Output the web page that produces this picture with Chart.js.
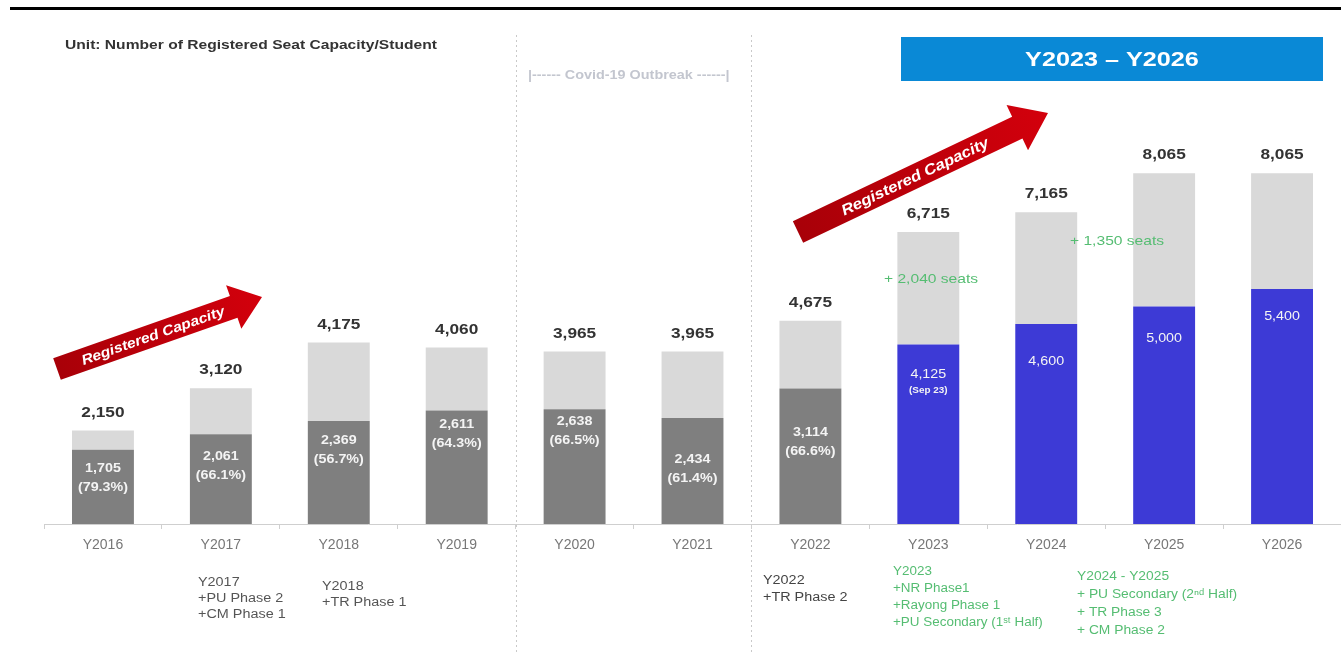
<!DOCTYPE html>
<html><head><meta charset="utf-8">
<script src="https://cdn.jsdelivr.net/npm/chart.js@4.4.0/dist/chart.umd.min.js"></script>
<style>html,body{margin:0;padding:0;background:#fff;overflow:hidden}</style>
</head><body>
<canvas id="c" width="1341" height="653"></canvas>
<script>
const categories = ['Y2016','Y2017','Y2018','Y2019','Y2020','Y2021','Y2022','Y2023','Y2024','Y2025','Y2026'];
const capacity = [2150, 3120, 4175, 4060, 3965, 3965, 4675, 6715, 7165, 8065, 8065];
const students = [1705, 2061, 2369, 2611, 2638, 2434, 3114, 4125, 4600, 5000, 5400];
const studentPct = ['(79.3%)','(66.1%)','(56.7%)','(64.3%)','(66.5%)','(61.4%)','(66.6%)','','','',''];
const studentNote = ['','','','','','','','(Sep 23)','','',''];
const isTarget = [false,false,false,false,false,false,false,true,true,true,true];
const remaining = capacity.map((c, i) => c - students[i]);

// label styling (pixel drop of the inner label below the bar top)
const innerLabelDrop = [19, 22, 19, 14, 12, 41, 44, 30, 38, 32, 27];

const FONT = '"Liberation Sans", Arial, sans-serif';
const DARK = '#7f7f7f', LIGHT = '#d9d9d9', BLUE = '#3d3ad6', GREEN = '#55bd72';
const SX = 1.2;

const fmt = v => v.toLocaleString('en-US');

function sText(ctx, text, x, y, sx) {
  ctx.save();
  ctx.translate(x, y);
  ctx.scale(sx || SX, 1);
  ctx.fillText(text, 0, 0);
  ctx.restore();
}

function drawArrow(ctx, x1, y1, x2, y2, bw, hw, hl, text, fs) {
  const dx = x2 - x1, dy = y2 - y1;
  const L = Math.hypot(dx, dy), a = Math.atan2(dy, dx);
  ctx.save();
  ctx.translate(x1, y1);
  ctx.rotate(a);
  const g = ctx.createLinearGradient(0, 0, L, 0);
  g.addColorStop(0, '#a80008');
  g.addColorStop(1, '#d3000c');
  ctx.fillStyle = g;
  ctx.beginPath();
  ctx.moveTo(0, -bw/2);
  ctx.lineTo(L - hl, -bw/2);
  ctx.lineTo(L - hl, -hw/2);
  ctx.lineTo(L, 0);
  ctx.lineTo(L - hl, hw/2);
  ctx.lineTo(L - hl, bw/2);
  ctx.lineTo(0, bw/2);
  ctx.closePath();
  ctx.fill();
  ctx.fillStyle = '#ffffff';
  ctx.font = 'italic bold ' + fs + 'px ' + FONT;
  ctx.textAlign = 'center';
  ctx.textBaseline = 'middle';
  sText(ctx, text, (L - hl) / 2 + 8, 1, 1.12);
  ctx.restore();
}

const decor = {
  id: 'decor',
  beforeDraw(chart) {
    const ctx = chart.ctx;
    const x = chart.scales.x;
    ctx.save();
    ctx.fillStyle = '#fff';
    ctx.fillRect(0, 0, chart.width, chart.height);
    ctx.fillStyle = '#000';
    ctx.fillRect(10, 7, chart.width - 10, 3);
    ctx.strokeStyle = '#c9c9c9';
    ctx.lineWidth = 1;
    ctx.setLineDash([2, 3]);
    [3, 5].forEach(i => {
      const px = Math.round((x.getPixelForValue(i) + x.getPixelForValue(i + 1)) / 2) + 0.5;
      ctx.beginPath();
      ctx.moveTo(px, 35);
      ctx.lineTo(px, chart.height);
      ctx.stroke();
    });
    ctx.restore();
  },
  afterDatasetsDraw(chart) {
    const ctx = chart.ctx;
    const m0 = chart.getDatasetMeta(0).data;
    const m1 = chart.getDatasetMeta(1).data;
    ctx.save();
    ctx.textAlign = 'center';
    ctx.textBaseline = 'middle';
    categories.forEach((c, i) => {
      const b0 = m0[i], b1 = m1[i];
      const d = innerLabelDrop[i];
      ctx.fillStyle = '#333';
      ctx.font = 'bold 15px ' + FONT;
      sText(ctx, fmt(capacity[i]), b1.x, b1.y - 18, 1.15);
      ctx.fillStyle = '#f4f4f4';
      if (!isTarget[i]) {
        ctx.font = 'bold 13px ' + FONT;
        sText(ctx, fmt(students[i]), b0.x, b0.y + d, 1.1);
        sText(ctx, studentPct[i], b0.x, b0.y + d + 19, 1.1);
      } else {
        ctx.font = '13px ' + FONT;
        sText(ctx, fmt(students[i]), b0.x, b0.y + d, 1.1);
        if (studentNote[i]) {
          ctx.font = 'bold 9px ' + FONT;
          sText(ctx, studentNote[i], b0.x, b0.y + d + 16, 1.1);
        }
      }
    });
    ctx.fillStyle = GREEN;
    ctx.font = '13px ' + FONT;
    ctx.textAlign = 'left';
    sText(ctx, '+ 2,040 seats', 884, 279);
    sText(ctx, '+ 1,350 seats', 1070, 241);
    ctx.restore();
  },
  afterDraw(chart) {
    const ctx = chart.ctx;
    ctx.save();
    ctx.fillStyle = '#333';
    ctx.font = 'bold 13px ' + FONT;
    ctx.textBaseline = 'middle';
    ctx.textAlign = 'left';
    sText(ctx, 'Unit: Number of Registered Seat Capacity/Student', 65, 45);
    ctx.fillStyle = '#c3c6cf';
    ctx.font = 'bold 12px ' + FONT;
    sText(ctx, '|------ Covid-19 Outbreak ------|', 528, 76);
    ctx.fillStyle = '#0a89d6';
    ctx.fillRect(901, 37, 422, 44);
    ctx.fillStyle = '#fff';
    ctx.font = 'bold 21px ' + FONT;
    ctx.textAlign = 'center';
    sText(ctx, 'Y2023 \u2013 Y2026', 1112, 60);
    drawArrow(ctx, 57, 369, 262, 297, 23, 46, 30, 'Registered Capacity', 14);
    drawArrow(ctx, 798, 232, 1048, 113, 24, 50, 34, 'Registered Capacity', 15);
    ctx.textAlign = 'left';
    ctx.font = '12px ' + FONT;
    const note = (lines, x0, y0, lh, col, sx) => {
      ctx.fillStyle = col;
      lines.forEach((t, k) => sText(ctx, t, x0, y0 + k * lh, sx));
    };
    note(['Y2017', '+PU Phase 2', '+CM Phase 1'], 198, 583, 16, '#555');
    note(['Y2018', '+TR Phase 1'], 322, 587, 16, '#555');
    note(['Y2022', '+TR Phase 2'], 763, 581, 17, '#444');
    note(['Y2023', '+NR Phase1', '+Rayong Phase 1', '+PU Secondary (1\u02E2\u1D57 Half)'], 893, 572, 17, GREEN, 1.12);
    note(['Y2024 - Y2025', '+ PU Secondary (2\u207F\u1D48 Half)', '+ TR Phase 3', '+ CM Phase 2'], 1077, 577, 18, GREEN, 1.15);
    ctx.restore();
  }
};

new Chart(document.getElementById('c'), {
  type: 'bar',
  data: {
    labels: categories,
    datasets: [
      { label: 'Students', data: students, backgroundColor: isTarget.map(t => t ? BLUE : DARK), stack: 's' },
      { label: 'Registered Capacity', data: remaining, backgroundColor: LIGHT, stack: 's' }
    ]
  },
  options: {
    responsive: false,
    animation: false,
    layout: { padding: { top: 89, left: 44, right: 0, bottom: 0 } },
    datasets: { bar: { categoryPercentage: 1, barPercentage: 0.525 } },
    plugins: { legend: { display: false }, tooltip: { enabled: false } },
    scales: {
      x: {
        stacked: true,
        grid: { drawOnChartArea: false, drawTicks: true, tickLength: 5, color: '#cfcfcf' },
        border: { color: '#cfcfcf', width: 1 },
        ticks: { color: '#777', font: { family: FONT, size: 14 }, padding: 8 },
        afterFit(s) { s.height = 129; }
      },
      y: { stacked: true, display: false, min: 0, max: 10000 }
    }
  },
  plugins: [decor]
});
</script>
</body></html>
